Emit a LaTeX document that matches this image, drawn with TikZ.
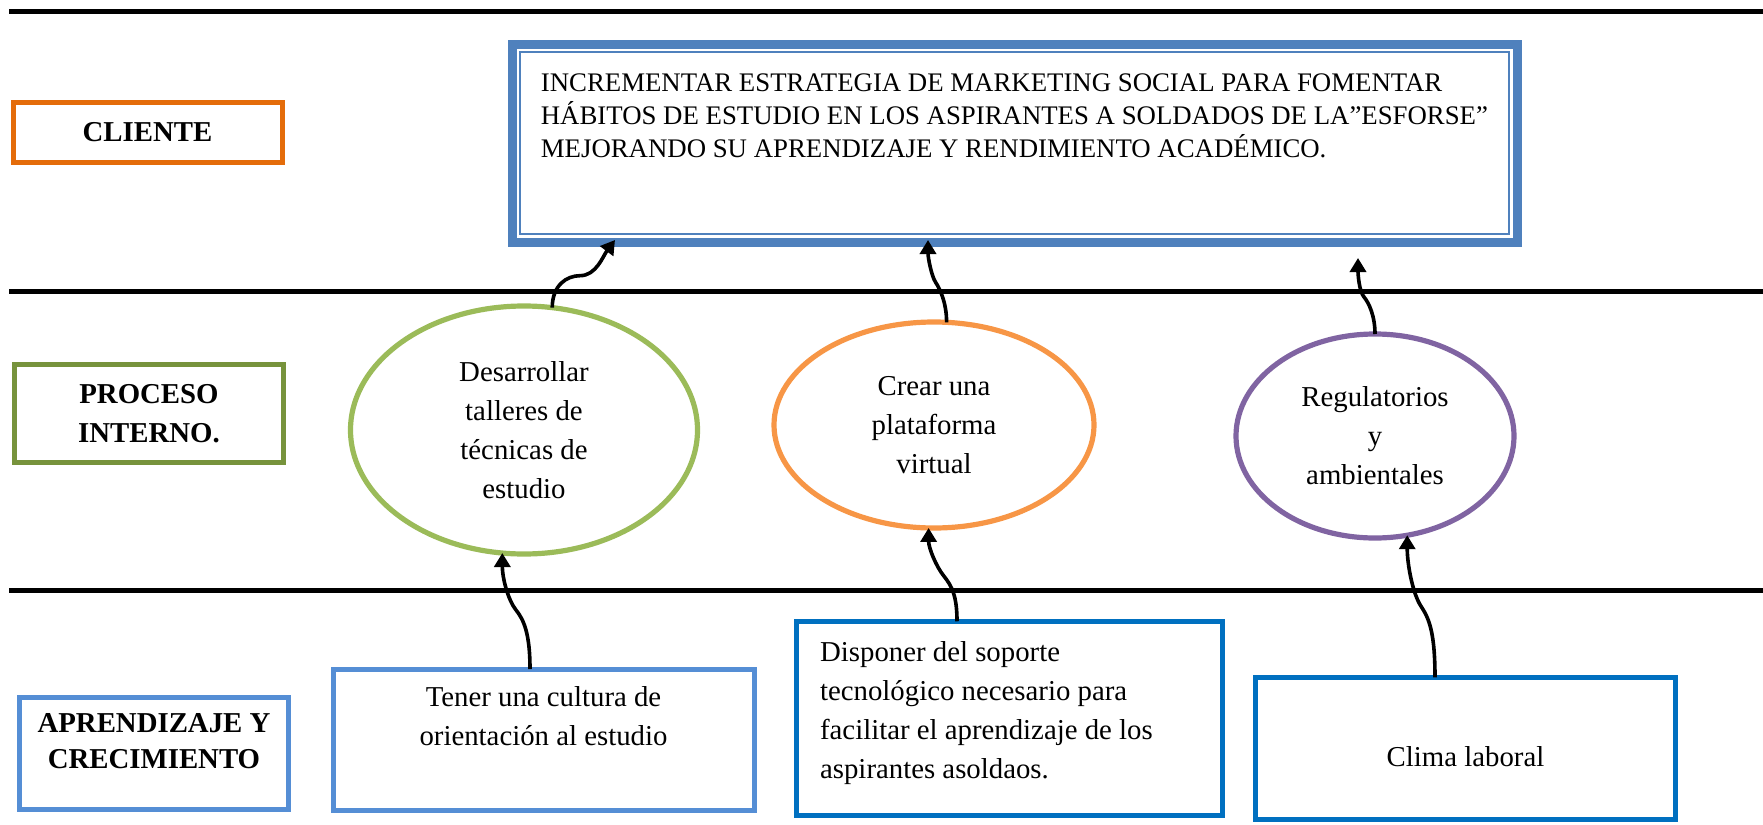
\documentclass[tikz,border=0pt]{standalone}
\usepackage{fontspec}
\setmainfont{Liberation Serif}
\usetikzlibrary{shapes.geometric, arrows.meta}

\definecolor{clientorange}{HTML}{E46C0A}
\definecolor{procgreen}{HTML}{77933C}
\definecolor{learnblue}{HTML}{558ED5}
\definecolor{goalblue}{HTML}{4F81BD}
\definecolor{ovalgreen}{HTML}{9BBB59}
\definecolor{ovalorange}{HTML}{F79646}
\definecolor{ovalpurple}{HTML}{8064A2}
\definecolor{boxblue}{HTML}{0070C0}

\begin{document}
\begin{tikzpicture}[
  x=0.5pt, y=-0.5pt,
  every node/.style={font=\fontsize{14.4}{19.5}\selectfont, outer sep=0pt},
  lane/.style={line width=2.5pt},
  tag/.style={rectangle, draw, line width=2.5pt, align=center, minimum width=134.5pt,
    font=\bfseries\fontsize{14.4}{19.5}\selectfont},
  goalbox/.style={rectangle, draw=goalblue, line width=4.5pt, align=left,
    minimum width=502.5pt, minimum height=99pt, font=\fontsize{13.4}{16.3}\selectfont},
  oval/.style={ellipse, draw, line width=2.6pt, align=center, inner sep=0pt},
  infobox/.style={rectangle, draw, line width=2.5pt},
  arrow/.style={-{Triangle[length=7pt, width=8pt]}, line width=1.8pt}
]
\useasboundingbox (0,0) rectangle (1763,825);

% Lane separators
\draw[lane] (9,11) -- (1763,11);
\draw[lane] (9,291) -- (1763,291);
\draw[lane] (9,590) -- (1763,590);

% Perspective labels
\node[tag, draw=clientorange, minimum height=30pt] (cliente) at (147.5,132.5) {CLIENTE};
\node[tag, draw=procgreen, minimum height=49pt] (proceso) at (149,413.5) {PROCESO\\INTERNO.};
\node[tag, draw=learnblue, minimum height=56pt, font=\bfseries\fontsize{14.4}{18}\selectfont]
  (aprendizaje) at (154,753.5) {APRENDIZAJE Y\\CRECIMIENTO\rule[-12.25pt]{0pt}{0pt}};

% Objective
\node[goalbox] (goal) at (1014.5,143) {INCREMENTAR ESTRATEGIA DE MARKETING SOCIAL PARA FOMENTAR\\
  HÁBITOS DE ESTUDIO EN LOS ASPIRANTES A SOLDADOS DE LA”ESFORSE”\\
  MEJORANDO SU APRENDIZAJE Y RENDIMIENTO ACADÉMICO.\rule[-27.3pt]{0pt}{0pt}};
\draw[goalblue, line width=0.6pt] ([xshift=4pt,yshift=-4pt]goal.north west) rectangle ([xshift=-4pt,yshift=4pt]goal.south east);

% Internal processes
\node[oval, draw=ovalgreen, minimum width=173.5pt, minimum height=124pt] (talleres) at (524,430)
  {Desarrollar\\talleres de\\técnicas de\\estudio};
\node[oval, draw=ovalorange, minimum width=160pt, minimum height=103pt] (plataforma) at (934,425)
  {Crear una\\plataforma\\virtual};
\node[oval, draw=ovalpurple, minimum width=139pt, minimum height=102pt] (regulatorios) at (1375,436)
  {Regulatorios\\y\\ambientales};

% Learning and growth
\node[infobox, draw=learnblue, align=center, minimum width=210.5pt, minimum height=70.5pt] (cultura) at (543.5,739.5)
  {Tener una cultura de\\orientación al estudio\rule[-23.8pt]{0pt}{0pt}};
\node[infobox, draw=boxblue, align=flush left, text width=189.4pt, inner xsep=11.9pt, minimum height=97.25pt] (soporte) at (1009.5,718.5)
  {Disponer del soporte\\tecnológico necesario para\\facilitar el aprendizaje de los\\aspirantes asoldaos.\rule[-8.9pt]{0pt}{0pt}};
\node[infobox, draw=boxblue, minimum width=210.25pt, minimum height=71.25pt] (clima) at (1465.5,748.5) {\rule{0pt}{17.8pt}Clima laboral};

\coordinate (regtip) at (1358,258);

% Arrows up to the objective
\draw[arrow] (talleres.77) .. controls +(0,-22) and +(-14,0) .. ++(28,-32)
  .. controls +(16,0) and +(-12,16) .. ([xshift=-199.75pt,yshift=1pt]goal.south);
\draw[arrow] (plataforma.83) .. controls +(0,-20) and +(4,6) .. ++(-11,-40)
  .. controls +(-4,-6) and +(0,18) .. ([xshift=-43.25pt,yshift=1pt]goal.south);
\draw[arrow] (regulatorios.north) .. controls +(0,-18) and +(5,6) .. ++(-11,-37)
  .. controls +(-5,-6) and +(0,16) .. (regtip);

% Arrows up to the processes
\draw[arrow] ([xshift=-6.75pt]cultura.north) .. controls +(0,-35) and +(8,10) .. ++(-14,-59)
  .. controls +(-8,-10) and +(0,25) .. (talleres.260);
\draw[arrow] ([xshift=-26.25pt]soporte.north) .. controls +(0,-25) and +(8,10) .. ++(-13,-45)
  .. controls +(-8,-10) and +(0,20) .. (plataforma.267);
\draw[arrow] ([xshift=-15.25pt]clima.north) .. controls +(0,-45) and +(8,12) .. ++(-14,-71)
  .. controls +(-8,-12) and +(0,30) .. (regulatorios.288);

\end{tikzpicture}
\end{document}
